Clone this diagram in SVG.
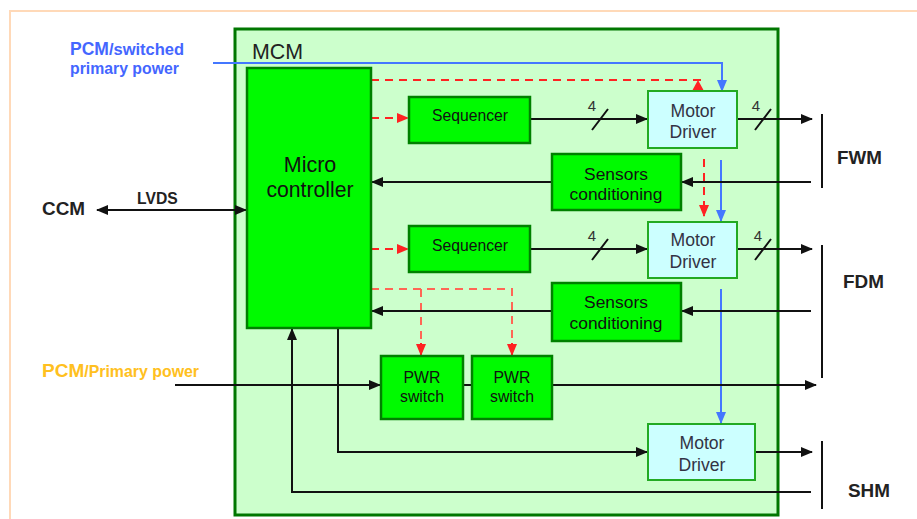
<svg xmlns="http://www.w3.org/2000/svg" width="917" height="519" viewBox="0 0 917 519">
<defs>
<style>
text{font-family:"Liberation Sans",Arial,sans-serif}
.blk{fill:#00fa00;stroke:#008000;stroke-width:2.5}
.md{fill:#ccffff;stroke:#22aa22;stroke-width:2}
.t{font-size:17.4px;fill:#111;text-anchor:middle}
.tp{font-size:15.8px;fill:#111;text-anchor:middle}
.ts{font-size:15.7px;fill:#111;text-anchor:middle}
.tm{font-size:17.6px;fill:#333344;text-anchor:middle}
.k{stroke:#111;stroke-width:2;fill:none}
.b{stroke:#4477ff;stroke-width:2;fill:none}
.r{stroke:#ff2222;stroke-width:2;fill:none;stroke-dasharray:8,6}
.r2{stroke:#ff6655;stroke-width:2;fill:none;stroke-dasharray:8,6}
.lab{font-weight:bold;fill:#222}
.n4{font-size:15px;fill:#333;text-anchor:middle}
</style>
<marker id="ak" markerWidth="12" markerHeight="10" refX="11" refY="5" orient="auto" markerUnits="userSpaceOnUse"><path d="M0,0 L12,5 L0,10 z" fill="#111"/></marker>
<marker id="aks" markerWidth="12" markerHeight="10" refX="1" refY="5" orient="auto" markerUnits="userSpaceOnUse"><path d="M12,0 L0,5 L12,10 z" fill="#111"/></marker>
<marker id="ab" markerWidth="12" markerHeight="10" refX="11" refY="5" orient="auto" markerUnits="userSpaceOnUse"><path d="M0,0 L12,5 L0,10 z" fill="#4477ff"/></marker>
<marker id="ar" markerWidth="12" markerHeight="10" refX="11" refY="5" orient="auto" markerUnits="userSpaceOnUse"><path d="M0,0 L12,5 L0,10 z" fill="#ff2222"/></marker>
</defs>
<rect x="10" y="11" width="920" height="520" fill="#ffffff" stroke="#ffd9b8" stroke-width="2"/>
<g id="mcm">
<rect x="235" y="29" width="543" height="486" fill="#ccffcc" stroke="#007700" stroke-width="3"/>
<text x="252" y="59" font-size="21.4" fill="#222">MCM</text>
</g>
<g id="labels">
<text x="70" y="55" font-size="17.5" font-weight="bold" fill="#4466ff">PCM<tspan font-size="16.5">/switched</tspan></text>
<text x="70" y="74" font-size="15.8" font-weight="bold" fill="#4466ff">primary power</text>
<text x="42" y="377" font-size="19" font-weight="bold" fill="#ffc020">PCM<tspan font-size="15.9">/Primary power</tspan></text>
<text x="42" y="215" font-size="18.9" class="lab">CCM</text>
<text x="137" y="204" font-size="15.7" class="lab">LVDS</text>
<text x="837" y="164" font-size="18.8" class="lab">FWM</text>
<text x="843" y="288" font-size="18.9" class="lab">FDM</text>
<text x="848" y="497" font-size="18.9" class="lab">SHM</text>
</g>
<g id="connectors">
<path class="b" d="M213,63 H722 V91" marker-end="url(#ab)"/>
<path class="b" d="M721,160 V221" marker-end="url(#ab)"/>
<path class="b" d="M721,289 V423" marker-end="url(#ab)"/>
<path class="r" d="M371,80 H705"/>
<polygon points="698,80 692,91 704,91" fill="#ff2222"/>
<path class="r" d="M371,118 H408" marker-end="url(#ar)"/>
<path class="r" d="M371,249 H408" marker-end="url(#ar)"/>
<path class="r" d="M704,159 V216" marker-end="url(#ar)"/>
<path class="r2" d="M371,289 H512 V344"/>
<path class="r2" d="M421,289 V344"/>
<path d="M421,343 V355" stroke="#ff2222" stroke-width="2" marker-end="url(#ar)"/>
<path d="M512,343 V355" stroke="#ff2222" stroke-width="2" marker-end="url(#ar)"/>
<path class="k" d="M97,210 H246" marker-start="url(#aks)" marker-end="url(#ak)"/>
<path class="k" d="M530,119 H647" marker-end="url(#ak)"/>
<path class="k" d="M530,249 H647" marker-end="url(#ak)"/>
<path class="k" d="M737,119 H812" marker-end="url(#ak)"/>
<path class="k" d="M737,249 H812" marker-end="url(#ak)"/>
<path class="k" d="M592,130 L608,109 M592,260 L608,239 M755,130 L771,109 M755,260 L771,239"/>
<text x="592" y="111" class="n4">4</text>
<text x="592" y="241" class="n4">4</text>
<text x="756" y="111" class="n4">4</text>
<text x="758" y="241" class="n4">4</text>
<path class="k" d="M811,182 H682" marker-end="url(#ak)"/>
<path class="k" d="M552,182 H372" marker-end="url(#ak)"/>
<path class="k" d="M811,311 H682" marker-end="url(#ak)"/>
<path class="k" d="M552,311 H372" marker-end="url(#ak)"/>
<path class="k" d="M175,385 H380" marker-end="url(#ak)"/>
<path class="k" d="M463,385 H472" stroke-width="3"/>
<path class="k" d="M552,385 H816" marker-end="url(#ak)"/>
<path class="k" d="M338,328 V452 H647" marker-end="url(#ak)"/>
<path class="k" d="M755,452 H812" marker-end="url(#ak)"/>
<path class="k" d="M811,492 H292 V329" marker-end="url(#ak)"/>
<path class="k" d="M822,114 V188 M822,245 V378 M822,441 V509"/>
</g>
<g id="micro">
<rect class="blk" x="247" y="68" width="124" height="260"/>
<text x="310" y="172" font-size="21.5" fill="#111" text-anchor="middle">Micro</text>
<text x="310" y="197" font-size="21.2" fill="#111" text-anchor="middle">controller</text>
</g>
<g id="seq1">
<rect class="blk" x="409" y="97" width="121" height="46"/>
<text x="470" y="121" class="ts">Sequencer</text>
</g>
<g id="seq2">
<rect class="blk" x="409" y="226" width="121" height="46"/>
<text x="470" y="251" class="ts">Sequencer</text>
</g>
<g id="md1">
<rect class="md" x="648" y="91" width="89" height="57"/>
<text x="693" y="117" class="tm">Motor</text>
<text x="693" y="138" class="tm">Driver</text>
</g>
<g id="md2">
<rect class="md" x="648" y="222" width="89" height="56"/>
<text x="693" y="246" class="tm">Motor</text>
<text x="693" y="268" class="tm">Driver</text>
</g>
<g id="md3">
<rect class="md" x="648" y="424" width="107" height="56"/>
<text x="702" y="449" class="tm">Motor</text>
<text x="702" y="471" class="tm">Driver</text>
</g>
<g id="sens1">
<rect class="blk" x="552" y="154" width="129" height="56"/>
<text x="616" y="180" class="t">Sensors</text>
<text x="616" y="200" class="t">conditioning</text>
</g>
<g id="sens2">
<rect class="blk" x="552" y="283" width="129" height="58"/>
<text x="616" y="308" class="t">Sensors</text>
<text x="616" y="329" class="t">conditioning</text>
</g>
<g id="pwr1">
<rect class="blk" x="381" y="356" width="82" height="63"/>
<text x="422" y="383" class="tp">PWR</text>
<text x="422" y="402" class="tp">switch</text>
</g>
<g id="pwr2">
<rect class="blk" x="472" y="356" width="80" height="63"/>
<text x="512" y="383" class="tp">PWR</text>
<text x="512" y="402" class="tp">switch</text>
</g>
</svg>
